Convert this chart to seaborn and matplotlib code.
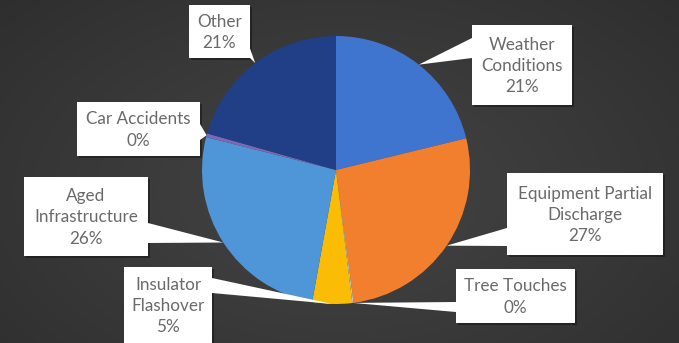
import numpy as np
import matplotlib
matplotlib.use("Agg")
import matplotlib.pyplot as plt
from matplotlib.patches import Rectangle, Polygon
import seaborn as sns

# Outage causes and their share of events (%)
causes = ["Weather\nConditions", "Equipment Partial\nDischarge", "Tree Touches",
          "Insulator\nFlashover", "Aged\nInfrastructure", "Car Accidents", "Other"]
shares = [21.2, 26.7, 0.15, 4.8, 26.1, 0.45, 20.6]
colors = ["#3f74cf", "#f27f2e", "#c9c9c9", "#fbbc05", "#4f96d8", "#7a68b8", "#203f86"]

sns.set_theme(style="white")
plt.rcParams["font.family"] = ["Lato", "DejaVu Sans"]

W, H = 679, 343
fig = plt.figure(figsize=(W / 100, H / 100), dpi=100)
ax = fig.add_axes([0, 0, 1, 1])

# dark radial backdrop
yy, xx = np.mgrid[0:H, 0:W]
d = np.sqrt(((xx - 340) / 420.0) ** 2 + ((yy - 150) / 260.0) ** 2)
shade = np.clip(0.27 - 0.08 * d, 0.17, 0.27)
ax.imshow(np.dstack([shade] * 3), extent=[0, W, 0, H], origin="lower", zorder=0)

cx, cy, r = 336, H - 170, 134
wedges, _ = ax.pie(shares, colors=colors, startangle=90, counterclock=False,
                   center=(cx, cy), radius=r, frame=True,
                   wedgeprops=dict(linewidth=0))
for w in wedges:
    w.set_zorder(2)
ax.set_xlim(0, W)
ax.set_ylim(0, H)
ax.set_aspect("equal")
ax.axis("off")

# label boxes in pixel space: (x0, y0, x1, y1) and leader base points on the box edge
boxes = [
    ((472, 25, 572, 105), [(472, 38), (472, 58)]),
    ((507, 173, 663, 255), [(507, 228), (507, 246)]),
    ((456, 269, 575, 323), [(456, 302), (456, 312)]),
    ((124, 267, 212, 343), [(212, 278), (212, 293)]),
    ((24, 177, 148, 256), [(148, 223), (148, 243)]),
    ((77, 102, 200, 156), [(200, 124), (200, 140)]),
    ((189, 5, 250, 58), [(247, 40), (250, 58)]),
]

text_color = "#6a6a6a"
for w, name, val, (box, base) in zip(wedges, causes, shares, boxes):
    mid = np.deg2rad((w.theta1 + w.theta2) / 2)
    tip = (cx + r * np.cos(mid), cy + r * np.sin(mid))
    x0, y0, x1, y1 = box
    # drop shadow
    ax.add_patch(Rectangle((x0 + 2, H - y1 - 2), x1 - x0, y1 - y0,
                           facecolor="black", alpha=0.35, edgecolor="none", zorder=3))
    ax.add_patch(Polygon([(base[0][0], H - base[0][1]), (base[1][0], H - base[1][1]), tip],
                         closed=True, facecolor="white", edgecolor="none", zorder=4))
    ax.add_patch(Rectangle((x0, H - y1), x1 - x0, y1 - y0,
                           facecolor="white", edgecolor="none", zorder=4))
    label = f"{name}\n{val:.0f}%"
    ax.text((x0 + x1) / 2, H - (y0 + y1) / 2 - 1, label, ha="center", va="center",
            fontsize=12.3, color=text_color, linespacing=1.4, zorder=5)

fig.savefig("out.png", dpi=100)
